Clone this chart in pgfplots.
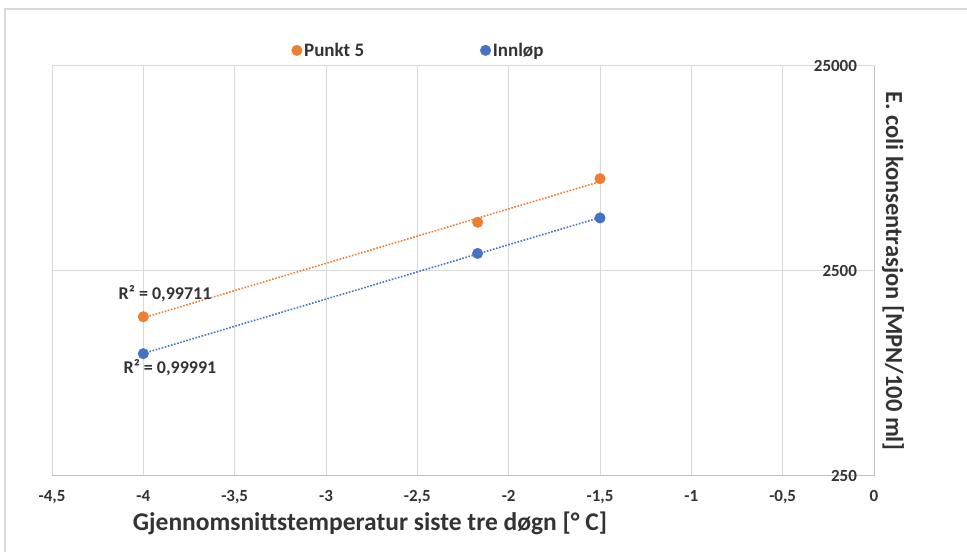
\documentclass[border=0pt]{standalone}
\usepackage{pgfplots}
\pgfplotsset{compat=1.18}
\usepackage{fontspec}
\setmainfont{Carlito}
\definecolor{cOr}{HTML}{ED7D31}
\definecolor{cBl}{HTML}{4472C4}
\definecolor{cGr}{HTML}{D9D9D9}
\definecolor{cAx}{HTML}{BFBFBF}
\definecolor{cTx}{HTML}{333333}
\begin{document}
\begin{tikzpicture}
\path[use as bounding box] (0pt,0pt) rectangle (967pt,552pt);
\draw[cGr, line width=1.2pt] (5pt,0pt) -- (5pt,543pt) -- (967pt,543pt);
\begin{axis}[
  at={(52pt,76pt)}, anchor=south west,
  scale only axis, width=822pt, height=410pt,
  xmin=-4.5, xmax=0,
  ymode=log, ymin=250, ymax=25000,
  xtick={-4.5,-4,-3.5,-3,-2.5,-2,-1.5,-1,-0.5,0},
  ytick={250,2500,25000},
  yticklabels={250,2500,25000},
  /pgf/number format/.cd, use comma, 1000 sep={}, assume math mode=true, /pgfplots/.cd,
  grid=major,
  major grid style={cGr, line width=1pt},
  axis x line*=bottom,
  axis y line*=right,
  axis line style={cAx, line width=1pt},
  tick style={draw=none},
  xticklabel style={font=\bfseries\fontsize{17}{20}\selectfont, text=cTx, yshift=-11pt},
  yticklabel pos=right,
  yticklabel style={font=\bfseries\fontsize{17}{20}\selectfont, text=cTx, anchor=east, xshift=-13.5pt},
  xlabel={Gjennomsnittstemperatur siste tre døgn [° C]},
  ylabel={E. coli konsentrasjon [MPN/100 ml]},
  every axis x label/.style={at={(axis description cs:0.387,0)}, anchor=center, yshift=-47pt, font=\bfseries\fontsize{25.5}{30}\selectfont, text=cTx},
  every axis y label/.style={at={(axis description cs:1.0231,0.5)}, anchor=center, rotate=-90, font=\bfseries\fontsize{24.5}{29}\selectfont, text=cTx},
  legend style={at={(axis description cs:0.4459,1)}, anchor=south, yshift=4pt, draw=none, fill=none,
    legend columns=2, font=\bfseries\fontsize{19}{22}\selectfont, text=cTx,
    /tikz/every even column/.append style={column sep=114pt}},
  legend image code/.code={\draw[#1] plot coordinates {(0pt,0pt)};},
  clip=false,
]
% trendlines (exponential fits, straight on log axis)
\addplot[cOr, line width=1.6pt, dash pattern=on 1.6pt off 1.6pt, forget plot] coordinates {(-4,1477) (-1.5,6821)};
\addplot[cBl, line width=1.6pt, dash pattern=on 1.6pt off 1.6pt, forget plot] coordinates {(-4,990) (-1.5,4558)};
% data
\addplot[only marks, mark=*, mark size=5.3pt, color=cOr] coordinates {(-4,1495) (-2.17,4323) (-1.5,7052)};
\addlegendentry{Punkt 5}
\addplot[only marks, mark=*, mark size=5.3pt, color=cBl] coordinates {(-4,988) (-2.17,3045) (-1.5,4537)};
\addlegendentry{Innløp}
\node[font=\bfseries\fontsize{18}{21}\selectfont, text=cTx] at (axis cs:-3.881,1934) {R² = 0,99711};
\node[font=\bfseries\fontsize{18}{21}\selectfont, text=cTx] at (axis cs:-3.854,845) {R² = 0,99991};
\end{axis}
\end{tikzpicture}
\end{document}
